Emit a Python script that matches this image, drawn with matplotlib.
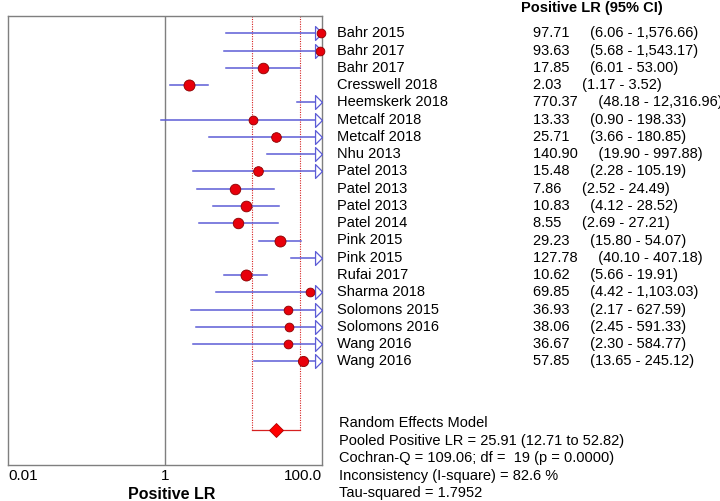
import numpy as np
import matplotlib
matplotlib.use("Agg")
import matplotlib.pyplot as plt
from matplotlib import transforms

plt.rcParams['font.family'] = ['Liberation Sans', 'DejaVu Sans']

estudios = ["Bahr 2015", "Bahr 2017", "Bahr 2017", "Cresswell 2018", "Heemskerk 2018",
            "Metcalf 2018", "Metcalf 2018", "Nhu 2013", "Patel 2013", "Patel 2013",
            "Patel 2013", "Patel 2014", "Pink 2015", "Pink 2015", "Rufai 2017",
            "Sharma 2018", "Solomons 2015", "Solomons 2016", "Wang 2016", "Wang 2016"]
lr = [97.71, 93.63, 17.85, 2.03, 770.37, 13.33, 25.71, 140.90, 15.48, 7.86,
      10.83, 8.55, 29.23, 127.78, 10.62, 69.85, 36.93, 38.06, 36.67, 57.85]
ci_bajo = [6.06, 5.68, 6.01, 1.17, 48.18, 0.90, 3.66, 19.90, 2.28, 2.52,
           4.12, 2.69, 15.80, 40.10, 5.66, 4.42, 2.17, 2.45, 2.30, 13.65]
ci_alto = [1576.66, 1543.17, 53.00, 3.52, 12316.96, 198.33, 180.85, 997.88, 105.19, 24.49,
           28.52, 27.21, 54.07, 407.18, 19.91, 1103.03, 627.59, 591.33, 584.77, 245.12]

lr_pool = 25.91
pool_bajo = 12.71
pool_alto = 52.82
tau2 = 1.7952
resumen = ["Random Effects Model",
           "Pooled Positive LR = 25.91 (12.71 to 52.82)",
           "Cochran-Q = 109.06; df =  19 (p = 0.0000)",
           "Inconsistency (I-square) = 82.6 %",
           "Tau-squared = 1.7952"]

x_min, x_max = 0.01, 100.0
azul = "#5c5cd6"
rojo = "#e8000b"
gris = "#7f7f7f"

fig = plt.figure(figsize=(7.2, 5.01), dpi=100)
ax = fig.add_axes([8 / 720, 36 / 501, 314 / 720, 449 / 501])
ax.set_xscale("log")
ax.set_xlim(x_min, x_max)
ax.set_ylim(25, -1)

# pesos de efectos aleatorios a partir del IC
se = (np.log(ci_alto) - np.log(ci_bajo)) / (2 * 1.96)
pesos = 1 / (se ** 2 + tau2)

flecha = [(0, 0), (-1, 1), (-1, -1), (0, 0)]

for i in range(len(estudios)):
    lo = max(ci_bajo[i], x_min)
    hi = min(ci_alto[i], x_max)
    ax.plot([lo, hi], [i, i], color=azul, lw=1.1, zorder=2, clip_on=False)
    if ci_alto[i] > x_max:
        ax.plot(x_max, i, marker=flecha, ms=10, mfc="white", mec=azul, mew=0.9,
                zorder=3, clip_on=False)
    if lr[i] <= x_max:
        ax.scatter(lr[i], i, s=17 + 87 * pesos[i], color=rojo, edgecolor="#8b0000",
                   linewidth=0.6, zorder=4, clip_on=False)

# modelo combinado
y_pool = 23
for v in (pool_bajo, pool_alto):
    ax.plot([v, v], [-1, y_pool], color="#d62020", lw=0.8, ls=(0, (1, 1.2)), zorder=1)
ax.plot([pool_bajo, pool_alto], [y_pool, y_pool], color="#d62020", lw=0.9, zorder=1)
ax.plot(lr_pool, y_pool, marker="D", ms=7.5, color="#ff0000", mec="#b00000", mew=0.6, zorder=4)

ax.axvline(1, color=gris, lw=1.0, zorder=1)
for s in ax.spines.values():
    s.set_color(gris)
    s.set_linewidth(1.0)

ax.set_yticks([])
ax.set_xticks([0.01, 1, 100])
ax.set_xticklabels(["0.01", "1", "100.0"], fontsize=11)
ax.minorticks_off()
ax.tick_params(axis="x", length=0, pad=3)
etiquetas = ax.get_xticklabels()
etiquetas[0].set_horizontalalignment("left")
etiquetas[2].set_horizontalalignment("right")
ax.set_xlabel("Positive LR", fontsize=11.5, fontweight="bold")
ax.xaxis.set_label_coords(0.52, -0.048)
ax.xaxis.label.set_verticalalignment("top")

# textos a la derecha
trans = transforms.blended_transform_factory(fig.transFigure, ax.transData)
for i in range(len(estudios)):
    ax.text(337 / 720, i, estudios[i], transform=trans, fontsize=10.5, va="center", clip_on=False)
    ax.text(533 / 720, i, f"{lr[i]:,.2f}     ({ci_bajo[i]:,.2f} - {ci_alto[i]:,.2f})",
            transform=trans, fontsize=10.5, va="center", clip_on=False)

fig.text(592 / 720, 1 - 8 / 501, "Positive LR (95% CI)", fontsize=10.5, fontweight="bold",
         ha="center", va="center")

for k, linea in enumerate(resumen):
    fig.text(339 / 720, 1 - (423 + k * 17.6) / 501, linea, fontsize=10.5, va="center")

fig.savefig("out.png", dpi=100)
